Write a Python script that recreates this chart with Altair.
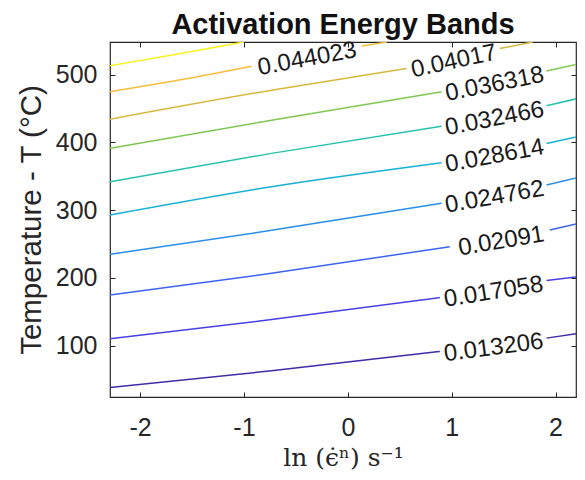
import altair as alt
import pandas as pd

# ---- contour levels and colours (parula-like) ----
levels = ["0.013206", "0.017058", "0.02091", "0.024762", "0.028614",
          "0.032466", "0.036318", "0.04017", "0.044023", "0.047875"]
colors = ["#3f2ca8", "#4640e0", "#3b63f2", "#2a8ee8", "#14b1d8",
          "#26c2ad", "#7ec852", "#d6b83c", "#f9bd3b", "#f9f218"]

# ---- contour lines (None = gap for the label) ----
lv1_x = [-2.29, -0.735, 0.886, None, 1.913, 2.28]
lv1_T = [38.0, 62.7, 91.2, None, 110.9, 119.2]
lv2_x = [-2.29, -0.735, 0.886, None, 1.913, 2.28]
lv2_T = [109.9, 138.3, 170.7, None, 195.8, 202.7]
lv3_x = [-2.29, -0.735, 0.982, None, 1.945, 2.28]
lv3_T = [174.7, 206.5, 245.9, None, 270.5, 282.3]
lv4_x = [-2.29, -0.735, 0.902, None, 1.913, 2.28]
lv4_T = [234.7, 270.0, 309.9, None, 336.9, 350.1]
lv5_x = [-2.29, -0.735, 0.902, None, 1.913, 2.28]
lv5_T = [292.6, 334.3, 369.7, None, 398.3, 410.5]
lv6_x = [-2.29, -0.735, 0.902, None, 1.913, 2.28]
lv6_T = [341.7, 383.6, 423.8, None, 454.0, 467.0]
lv7_x = [-2.29, -0.735, 0.902, None, 1.913, 2.28]
lv7_T = [390.9, 432.6, 474.4, None, 505.3, 517.7]
lv8_x = [-2.29, -0.735, 0.565, None, 1.464, 1.781]
lv8_T = [434.1, 476.9, 508.8, None, 538.3, 548.0]
lv9_x = [-2.29, -1.6, -0.927, None, 0.135, 0.376]
lv9_T = [474.5, 492.5, 512.2, None, 542.1, 548.0]
lv10_x = [-2.29, -1.65, -1.0]
lv10_T = [513.0, 530.0, 548.0]

# ---- contour labels ----
label_text = ["0.013206", "0.017058", "0.02091", "0.024762", "0.028614",
              "0.032466", "0.036318", "0.04017", "0.044023"]
label_x = [1.400, 1.400, 1.473, 1.408, 1.408, 1.408, 1.408, 1.015, -0.396]
label_T = [101.0, 183.3, 258.1, 323.3, 384.0, 438.9, 489.8, 523.6, 527.1]
label_angle = [7.5, 9.0, 9.5, 9.9, 10.5, 11.0, 11.3, 12.1, 10.6]

x_ticks = [-2, -1, 0, 1, 2]
y_ticks = [100, 200, 300, 400, 500]
x_domain = [-2.29, 2.197]   # right part of the original axis is cropped
y_domain = [24, 548]

all_x = [lv1_x, lv2_x, lv3_x, lv4_x, lv5_x, lv6_x, lv7_x, lv8_x, lv9_x, lv10_x]
all_T = [lv1_T, lv2_T, lv3_T, lv4_T, lv5_T, lv6_T, lv7_T, lv8_T, lv9_T, lv10_T]

rows = []
for lev, xs, ts in zip(levels, all_x, all_T):
    seg = 0
    for xv, tv in zip(xs, ts):
        if xv is None:
            seg += 1
            continue
        rows.append({"level": lev, "seg": f"{lev}-{seg}", "x": xv, "T": tv})
lines_df = pd.DataFrame(rows)

labels_df = pd.DataFrame({
    "text": label_text,
    "x": label_x,
    "T": label_T,
    "ang": [360 - a for a in label_angle],
})

AX = "#262626"
SANS = "Liberation Sans, Arial, Helvetica, sans-serif"
SERIF = "DejaVu Serif, serif"

xscale = alt.Scale(domain=x_domain, nice=False, zero=False)
yscale = alt.Scale(domain=y_domain, nice=False, zero=False)

lines = alt.Chart(lines_df).mark_line(
    strokeWidth=1.5, interpolate="monotone", clip=True
).encode(
    x=alt.X("x:Q", scale=xscale, axis=alt.Axis(
        orient="bottom", values=x_ticks, labelExpr="toString(datum.value)",
        domain=False, tickSize=5, offset=-5, labelPadding=18,
        title="ln (ϵ̇ⁿ) s⁻¹", titleFont=SERIF, titleFontSize=25,
        titleFontWeight="normal", titleColor=AX, titlePadding=5)),
    y=alt.Y("T:Q", scale=yscale, axis=alt.Axis(
        orient="left", values=y_ticks, domain=False, tickSize=5, offset=-5,
        labelPadding=13, title="Temperature - T (°C)", titleFont=SANS,
        titleFontSize=29.5, titleFontWeight="normal", titleColor=AX,
        titlePadding=9)),
    color=alt.Color("level:N", scale=alt.Scale(domain=levels, range=colors),
                    legend=None),
    detail="seg:N",
    order="x:Q",
)

texts = alt.Chart(labels_df).mark_text(
    font=SANS, fontSize=24, color="#1a1a1a", align="center", baseline="middle",
    dy=3
).encode(
    x=alt.X("x:Q", scale=xscale, axis=alt.Axis(
        orient="top", values=x_ticks, labels=False, domain=False,
        tickSize=5, offset=-5, title=None)),
    y=alt.Y("T:Q", scale=yscale, axis=alt.Axis(
        orient="right", values=y_ticks, labels=False, domain=False,
        tickSize=5, offset=-5, title=None)),
    text="text:N",
    angle=alt.Angle("ang:Q", scale=None),
)

chart = alt.layer(lines, texts).resolve_axis(
    x="independent", y="independent"
).properties(
    width=466,
    height=355,
    autosize=alt.AutoSizeParams(type="none"),
    padding={"left": 102, "top": 34, "right": 1, "bottom": 75},
    title=alt.Title("Activation Energy Bands", font=SANS, fontSize=29,
                    fontWeight="bold", color="#111111", anchor="middle",
                    frame="group", offset=-2),
).configure_view(
    stroke=AX, strokeWidth=1.2
).configure_axis(
    labelFont=SANS, labelFontSize=25, labelColor=AX, tickColor=AX,
    tickWidth=1, grid=False
)

chart.save("out.html", embed_options={"renderer": "svg", "actions": False})
